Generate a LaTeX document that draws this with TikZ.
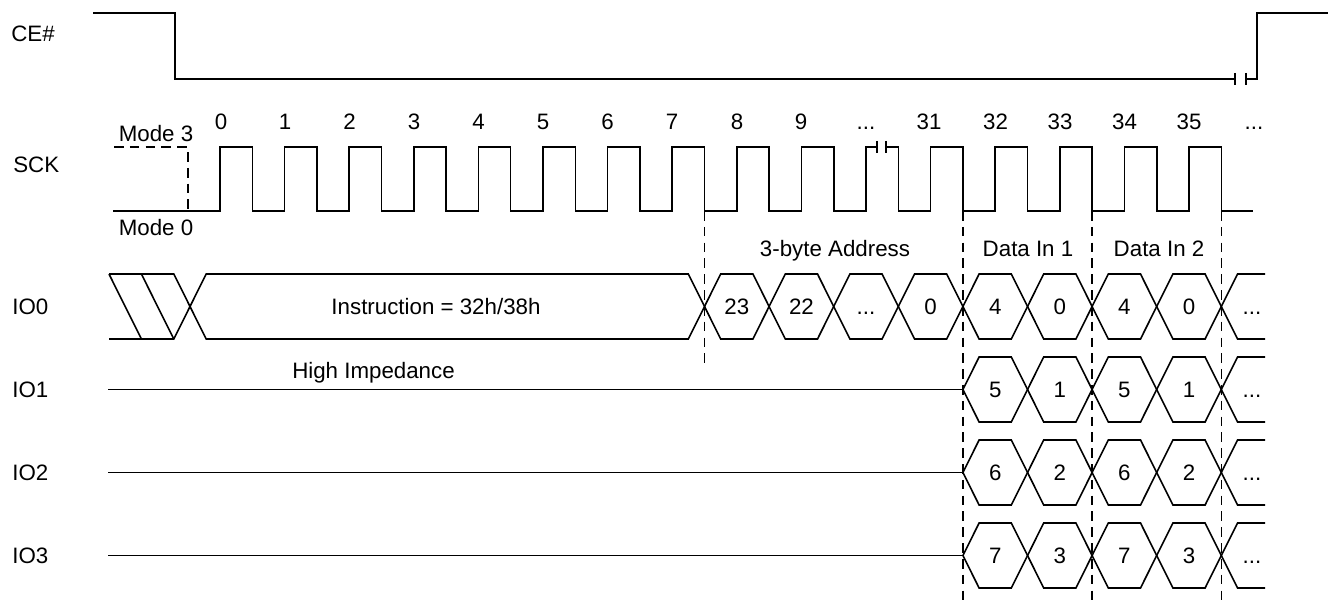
\documentclass[tikz,border=0pt]{standalone}
\usepackage{fontspec}
\setmainfont{Liberation Sans}
\usepackage{tikz}
\newcommand{\sigfont}{\fontsize{12.7pt}{15pt}\selectfont}

\begin{document}
\begin{tikzpicture}[x=0.02cm,y=-0.02cm,
  wave/.style={line width=0.9pt,line join=miter},
  guide/.style={line width=0.9pt,dash pattern=on 5.5pt off 3.5pt},
  txt/.style={font=\sigfont,inner sep=0pt,text height=9.1pt,text depth=0pt}]
\useasboundingbox (0,0) rectangle (1328,601);
% signal names
\node[txt,anchor=west] (lce) at (11,34) {CE\#};
\node[txt,anchor=west] (lsck) at (13,165) {SCK};
\node[txt,anchor=west] (lio0) at (12,306.5) {IO0};
\node[txt,anchor=west] (lio1) at (12,389.5) {IO1};
\node[txt,anchor=west] (lio2) at (12,472.5) {IO2};
\node[txt,anchor=west] (lio3) at (12,555.5) {IO3};
% CE#
\draw[wave] (93,13) -- (175,13) -- (175,79) -- (1235,79);
\draw[wave] (1235,73) -- (1235,85);
\draw[wave] (1246,73) -- (1246,85);
\draw[wave] (1246,79) -- (1257,79) -- (1257,13) -- (1328,13);
% SCK
\node[txt] (mthree) at (156,134) {Mode 3};
\node[txt] (mzero) at (156,228) {Mode 0};
\draw[guide] (114,147) -- (188,147) -- (188,211);
\draw[wave] (113,211) -- (220,211) -- (220,147) -- (252.3,147) -- (252.3,211)
  -- (284.6,211) -- (284.6,147) -- (316.9,147) -- (316.9,211)
  -- (349.2,211) -- (349.2,147) -- (381.5,147) -- (381.5,211)
  -- (413.8,211) -- (413.8,147) -- (446.1,147) -- (446.1,211)
  -- (478.4,211) -- (478.4,147) -- (510.7,147) -- (510.7,211)
  -- (543.0,211) -- (543.0,147) -- (575.3,147) -- (575.3,211)
  -- (607.6,211) -- (607.6,147) -- (639.9,147) -- (639.9,211)
  -- (672.2,211) -- (672.2,147) -- (704.5,147) -- (704.5,211)
  -- (736.8,211) -- (736.8,147) -- (769.1,147) -- (769.1,211)
  -- (801.4,211) -- (801.4,147) -- (833.7,147) -- (833.7,211)
  -- (866.0,211) -- (866.0,147) -- (877,147);
\draw[wave] (877,141) -- (877,153);
\draw[wave] (886,141) -- (886,153);
\draw[wave] (886,147) -- (898.3,147) -- (898.3,211)
  -- (930.6,211) -- (930.6,147) -- (962.9,147) -- (962.9,211)
  -- (995.2,211) -- (995.2,147) -- (1027.5,147) -- (1027.5,211)
  -- (1059.8,211) -- (1059.8,147) -- (1092.1,147) -- (1092.1,211)
  -- (1124.4,211) -- (1124.4,147) -- (1156.7,147) -- (1156.7,211)
  -- (1189.0,211) -- (1189.0,147) -- (1221.3,147) -- (1221.3,211) -- (1253,211);
\node[txt] (c0) at (221,122) {0};
\node[txt] (c1) at (285,122) {1};
\node[txt] (c2) at (349.5,122) {2};
\node[txt] (c3) at (414,122) {3};
\node[txt] (c4) at (478.5,122) {4};
\node[txt] (c5) at (543,122) {5};
\node[txt] (c6) at (607.5,122) {6};
\node[txt] (c7) at (672,122) {7};
\node[txt] (c8) at (737,122) {8};
\node[txt] (c9) at (801,122) {9};
\node[txt] (cdots) at (866,122) {...};
\node[txt] (c31) at (929,122) {31};
\node[txt] (c32) at (995.5,122) {32};
\node[txt] (c33) at (1060,122) {33};
\node[txt] (c34) at (1124.5,122) {34};
\node[txt] (c35) at (1189,122) {35};
\node[txt] (cmore) at (1254,122) {...};
% phase boundaries
\draw[guide] (704.5,211) -- (704.5,366);
\draw[guide] (962.9,211) -- (962.9,601);
\draw[guide] (1092.1,211) -- (1092.1,601);
\draw[guide] (1221.3,211) -- (1221.3,601);
\node[txt] (addr) at (835,249) {3-byte Address};
\node[txt] (din1) at (1028,249) {Data In 1};
\node[txt] (din2) at (1159,249) {Data In 2};
% IO0
\draw[wave] (109,274) -- (173.8,274) -- (190,306.5) -- (173.8,339) -- (109,339);
\draw[wave] (109,274) -- (141.4,339);
\draw[wave] (141.4,274) -- (173.8,339);
\draw[wave] (190,306.5) -- (206.2,274) -- (688.3,274) -- (704.5,306.5) -- (688.3,339) -- (206.2,339) -- cycle;
\draw[wave] (704.5,306.5) -- (720.7,274) -- (752.9,274) -- (769.1,306.5) -- (752.9,339) -- (720.7,339) -- cycle;
\draw[wave] (769.1,306.5) -- (785.3,274) -- (817.5,274) -- (833.7,306.5) -- (817.5,339) -- (785.3,339) -- cycle;
\draw[wave] (833.7,306.5) -- (849.9,274) -- (882.1,274) -- (898.3,306.5) -- (882.1,339) -- (849.9,339) -- cycle;
\draw[wave] (898.3,306.5) -- (914.5,274) -- (946.7,274) -- (962.9,306.5) -- (946.7,339) -- (914.5,339) -- cycle;
\draw[wave] (962.9,306.5) -- (979.1,274) -- (1011.3,274) -- (1027.5,306.5) -- (1011.3,339) -- (979.1,339) -- cycle;
\draw[wave] (1027.5,306.5) -- (1043.7,274) -- (1075.9,274) -- (1092.1,306.5) -- (1075.9,339) -- (1043.7,339) -- cycle;
\draw[wave] (1092.1,306.5) -- (1108.3,274) -- (1140.5,274) -- (1156.7,306.5) -- (1140.5,339) -- (1108.3,339) -- cycle;
\draw[wave] (1156.7,306.5) -- (1172.9,274) -- (1205.1,274) -- (1221.3,306.5) -- (1205.1,339) -- (1172.9,339) -- cycle;
\draw[wave] (1265,274) -- (1237.5,274) -- (1221.3,306.5) -- (1237.5,339) -- (1265,339);
\node[txt] (instr) at (436,306.5) {Instruction = 32h/38h};
\node[txt] (a23) at (736.8,306.5) {23};
\node[txt] (a22) at (801.4,306.5) {22};
\node[txt] (adots) at (866,306.5) {...};
\node[txt] (a0) at (930.6,306.5) {0};
\node[txt] (d04) at (995.2,306.5) {4};
\node[txt] (d00) at (1059.8,306.5) {0};
\node[txt] (e04) at (1124.4,306.5) {4};
\node[txt] (e00) at (1189,306.5) {0};
\node[txt] (io0more) at (1252,306.5) {...};
% IO1
\draw[wave] (108,389.5) -- (962.9,389.5);
\node[txt] (hiz) at (373.5,371) {High Impedance};
\draw[wave] (962.9,389.5) -- (979.1,357) -- (1011.3,357) -- (1027.5,389.5) -- (1011.3,422) -- (979.1,422) -- cycle;
\draw[wave] (1027.5,389.5) -- (1043.7,357) -- (1075.9,357) -- (1092.1,389.5) -- (1075.9,422) -- (1043.7,422) -- cycle;
\draw[wave] (1092.1,389.5) -- (1108.3,357) -- (1140.5,357) -- (1156.7,389.5) -- (1140.5,422) -- (1108.3,422) -- cycle;
\draw[wave] (1156.7,389.5) -- (1172.9,357) -- (1205.1,357) -- (1221.3,389.5) -- (1205.1,422) -- (1172.9,422) -- cycle;
\draw[wave] (1265,357) -- (1237.5,357) -- (1221.3,389.5) -- (1237.5,422) -- (1265,422);
\node[txt] (d15) at (995.2,389.5) {5};
\node[txt] (d11) at (1059.8,389.5) {1};
\node[txt] (e15) at (1124.4,389.5) {5};
\node[txt] (e11) at (1189,389.5) {1};
\node[txt] (io1more) at (1252,389.5) {...};
% IO2
\draw[wave] (108,472.5) -- (962.9,472.5);
\draw[wave] (962.9,472.5) -- (979.1,440) -- (1011.3,440) -- (1027.5,472.5) -- (1011.3,505) -- (979.1,505) -- cycle;
\draw[wave] (1027.5,472.5) -- (1043.7,440) -- (1075.9,440) -- (1092.1,472.5) -- (1075.9,505) -- (1043.7,505) -- cycle;
\draw[wave] (1092.1,472.5) -- (1108.3,440) -- (1140.5,440) -- (1156.7,472.5) -- (1140.5,505) -- (1108.3,505) -- cycle;
\draw[wave] (1156.7,472.5) -- (1172.9,440) -- (1205.1,440) -- (1221.3,472.5) -- (1205.1,505) -- (1172.9,505) -- cycle;
\draw[wave] (1265,440) -- (1237.5,440) -- (1221.3,472.5) -- (1237.5,505) -- (1265,505);
\node[txt] (d26) at (995.2,472.5) {6};
\node[txt] (d22) at (1059.8,472.5) {2};
\node[txt] (e26) at (1124.4,472.5) {6};
\node[txt] (e22) at (1189,472.5) {2};
\node[txt] (io2more) at (1252,472.5) {...};
% IO3
\draw[wave] (108,555.5) -- (962.9,555.5);
\draw[wave] (962.9,555.5) -- (979.1,523) -- (1011.3,523) -- (1027.5,555.5) -- (1011.3,588) -- (979.1,588) -- cycle;
\draw[wave] (1027.5,555.5) -- (1043.7,523) -- (1075.9,523) -- (1092.1,555.5) -- (1075.9,588) -- (1043.7,588) -- cycle;
\draw[wave] (1092.1,555.5) -- (1108.3,523) -- (1140.5,523) -- (1156.7,555.5) -- (1140.5,588) -- (1108.3,588) -- cycle;
\draw[wave] (1156.7,555.5) -- (1172.9,523) -- (1205.1,523) -- (1221.3,555.5) -- (1205.1,588) -- (1172.9,588) -- cycle;
\draw[wave] (1265,523) -- (1237.5,523) -- (1221.3,555.5) -- (1237.5,588) -- (1265,588);
\node[txt] (d37) at (995.2,555.5) {7};
\node[txt] (d33) at (1059.8,555.5) {3};
\node[txt] (e37) at (1124.4,555.5) {7};
\node[txt] (e33) at (1189,555.5) {3};
\node[txt] (io3more) at (1252,555.5) {...};
\end{tikzpicture}
\end{document}
